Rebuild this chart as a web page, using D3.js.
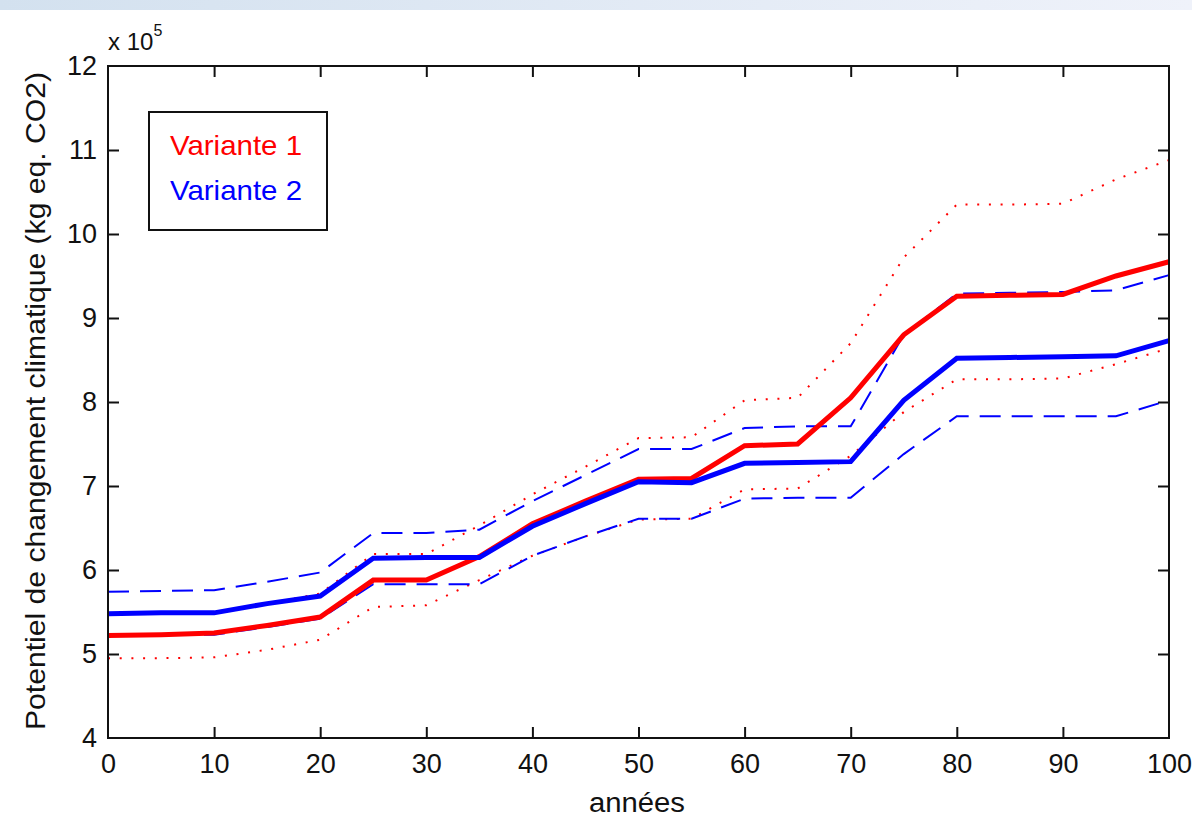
<!DOCTYPE html>
<html>
<head>
<meta charset="utf-8">
<script src="https://cdn.jsdelivr.net/npm/d3@7"></script>
<style>
  body { margin: 0; background: #fff; }
  svg { display: block; font-family: "Liberation Sans", Arial, sans-serif; }
</style>
</head>
<body>
<div id="chart"></div>
<script>
// years (x) and values in units of 1e5 kg eq. CO2
const years = [0, 5, 10, 15, 20, 25, 30, 35, 40, 45, 50, 55, 60, 65, 70, 75, 80, 85, 90, 95, 100];

const v1Mean  = [5.22, 5.23, 5.25, 5.34, 5.44, 5.88, 5.88, 6.16, 6.55, 6.82, 7.08, 7.09, 7.48, 7.50, 8.05, 8.80, 9.26, 9.27, 9.28, 9.50, 9.67];
const v1Upper = [5.48, 5.49, 5.50, 5.60, 5.72, 6.19, 6.19, 6.53, 6.90, 7.23, 7.57, 7.58, 8.02, 8.05, 8.70, 9.72, 10.35, 10.35, 10.36, 10.65, 10.88];
const v1Lower = [4.95, 4.95, 4.96, 5.05, 5.17, 5.56, 5.58, 5.88, 6.17, 6.40, 6.60, 6.61, 6.96, 6.97, 7.36, 7.88, 8.27, 8.27, 8.28, 8.45, 8.64];

const v2Mean  = [5.48, 5.49, 5.49, 5.60, 5.69, 6.14, 6.15, 6.15, 6.52, 6.79, 7.05, 7.04, 7.27, 7.28, 7.29, 8.02, 8.52, 8.53, 8.54, 8.55, 8.73];
const v2Upper = [5.74, 5.75, 5.76, 5.86, 5.97, 6.44, 6.44, 6.48, 6.82, 7.13, 7.44, 7.44, 7.69, 7.71, 7.71, 8.80, 9.29, 9.30, 9.31, 9.33, 9.51];
const v2Lower = [5.23, 5.23, 5.23, 5.32, 5.42, 5.83, 5.83, 5.83, 6.17, 6.40, 6.61, 6.61, 6.85, 6.86, 6.86, 7.38, 7.83, 7.83, 7.83, 7.83, 8.02];

const xTicks = [0, 10, 20, 30, 40, 50, 60, 70, 80, 90, 100];
const yTicks = [4, 5, 6, 7, 8, 9, 10, 11, 12];
const legendLabels = ["Variante 1", "Variante 2"];

const width = 1192, height = 824;
const plot = { left: 108, right: 1169, top: 66, bottom: 738 };

const svg = d3.select("#chart").append("svg")
  .attr("width", width)
  .attr("height", height);

// light window band at the top
const grad = svg.append("defs").append("linearGradient")
  .attr("id", "band").attr("x1", "0").attr("x2", "1");
grad.append("stop").attr("offset", "0").attr("stop-color", "#d3e1ef");
grad.append("stop").attr("offset", "1").attr("stop-color", "#eff2fa");
svg.append("rect").attr("x", 0).attr("y", 0).attr("width", width).attr("height", 10)
  .attr("fill", "url(#band)");

const x = d3.scaleLinear().domain([0, 100]).range([plot.left, plot.right]);
const y = d3.scaleLinear().domain([4, 12]).range([plot.bottom, plot.top]);

const lineGen = d3.line()
  .x((d, i) => x(years[i]))
  .y((d) => y(d));

const plotArea = svg.append("g");

const series = [
  { values: v1Lower, color: "#ff0000", width: 2, dash: "2,9.7" },
  { values: v1Upper, color: "#ff0000", width: 2, dash: "2,9.7" },
  { values: v2Lower, color: "#0000ff", width: 2, dash: "21,11" },
  { values: v2Upper, color: "#0000ff", width: 2, dash: "21,11" },
  { values: v1Mean, color: "#ff0000", width: 5, dash: null },
  { values: v2Mean, color: "#0000ff", width: 5, dash: null },
];

plotArea.selectAll("path")
  .data(series)
  .join("path")
  .attr("fill", "none")
  .attr("stroke", (d) => d.color)
  .attr("stroke-width", (d) => d.width)
  .attr("stroke-dasharray", (d) => d.dash)
  .attr("d", (d) => lineGen(d.values));

// axes, ticks pointing inward (MATLAB style)
const tickLen = 11;
const fontSize = 27;

const bottomAxis = svg.append("g")
  .attr("transform", `translate(0,${plot.bottom})`)
  .call(d3.axisBottom(x).tickValues(xTicks).tickSizeInner(-tickLen).tickSizeOuter(0).tickPadding(16));
const topAxis = svg.append("g")
  .attr("transform", `translate(0,${plot.top})`)
  .call(d3.axisTop(x).tickValues(xTicks).tickSizeInner(-tickLen).tickSizeOuter(0).tickFormat(""));
const leftAxis = svg.append("g")
  .attr("transform", `translate(${plot.left},0)`)
  .call(d3.axisLeft(y).tickValues(yTicks).tickSizeInner(-tickLen).tickSizeOuter(0).tickPadding(11));
const rightAxis = svg.append("g")
  .attr("transform", `translate(${plot.right},0)`)
  .call(d3.axisRight(y).tickValues(yTicks).tickSizeInner(-tickLen).tickSizeOuter(0).tickFormat(""));

[bottomAxis, topAxis, leftAxis, rightAxis].forEach((g) => {
  g.select(".domain").remove();
  g.selectAll(".tick line").attr("stroke", "#111").attr("stroke-width", 2);
  g.selectAll(".tick text")
    .attr("fill", "#111")
    .attr("font-size", fontSize)
    .attr("font-family", "'Liberation Sans', Arial, sans-serif");
});

// remove end ticks on the box corners
bottomAxis.selectAll(".tick").filter((d) => d === 0 || d === 100).select("line").remove();
topAxis.selectAll(".tick").filter((d) => d === 0 || d === 100).select("line").remove();
leftAxis.selectAll(".tick").filter((d) => d === 4 || d === 12).select("line").remove();
rightAxis.selectAll(".tick").filter((d) => d === 4 || d === 12).select("line").remove();

svg.append("rect")
  .attr("x", plot.left).attr("y", plot.top)
  .attr("width", plot.right - plot.left).attr("height", plot.bottom - plot.top)
  .attr("fill", "none").attr("stroke", "#111").attr("stroke-width", 2);

// exponent label
const expo = svg.append("text")
  .attr("x", plot.left).attr("y", 50)
  .attr("font-size", 24).attr("fill", "#111");
expo.append("tspan").text("x 10");
expo.append("tspan").attr("font-size", 16).attr("dy", -14).text("5");

// axis labels
svg.append("text")
  .attr("x", 637)
  .attr("y", 812)
  .attr("text-anchor", "middle")
  .attr("font-size", 27)
  .attr("textLength", 96)
  .attr("lengthAdjust", "spacingAndGlyphs")
  .attr("fill", "#111")
  .text("années");

svg.append("text")
  .attr("transform", "translate(45,401) rotate(-90)")
  .attr("text-anchor", "middle")
  .attr("font-size", 28)
  .attr("textLength", 658)
  .attr("lengthAdjust", "spacingAndGlyphs")
  .attr("fill", "#111")
  .text("Potentiel de changement climatique (kg eq. CO2)");

// legend
const legend = svg.append("g");
legend.append("rect")
  .attr("x", 149).attr("y", 112).attr("width", 178).attr("height", 118)
  .attr("fill", "#fff").attr("stroke", "#111").attr("stroke-width", 2);
legend.selectAll("text")
  .data(legendLabels)
  .join("text")
  .attr("x", 170)
  .attr("y", (d, i) => 155 + i * 45)
  .attr("font-size", 28)
  .attr("textLength", 132)
  .attr("lengthAdjust", "spacingAndGlyphs")
  .attr("fill", (d, i) => (i === 0 ? "#ff0000" : "#0000ff"))
  .text((d) => d);
</script>
</body>
</html>
